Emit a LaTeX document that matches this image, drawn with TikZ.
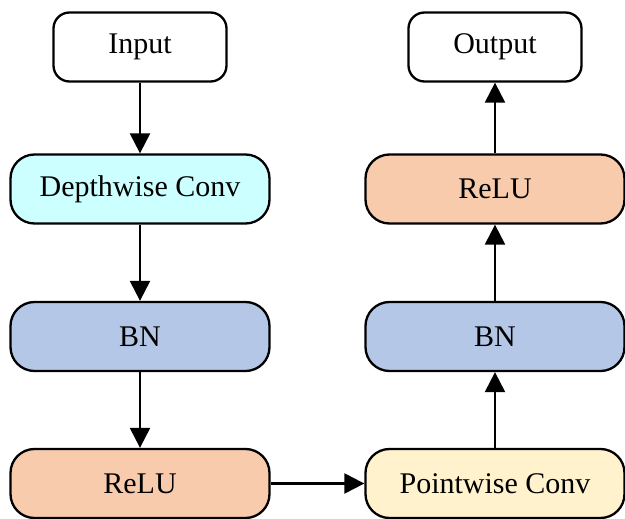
\documentclass[tikz,border=0pt]{standalone}
\usepackage{fontspec}
\setmainfont{Liberation Serif}
\usetikzlibrary{arrows.meta}
\definecolor{dwcyan}{HTML}{CCFFFF}
\definecolor{bnblue}{HTML}{B4C7E7}
\definecolor{relupeach}{HTML}{F8CBAD}
\definecolor{pwyellow}{HTML}{FFF2CC}
\begin{document}
\begin{tikzpicture}[x=1pt,y=-1pt,
  block/.style={draw=black, line width=2.3pt, rounded corners=24pt,
    minimum width=259pt, minimum height=69pt, inner sep=0pt,
    font=\fontsize{30}{33}\selectfont},
  io/.style={block, minimum width=173pt, rounded corners=16pt},
  flow/.style={line width=2.3pt, -{Triangle[length=20pt,width=20pt]}}]
\useasboundingbox (0,0) rectangle (625,519);
% left column
\node[io]                      (in)   at (140,47)    {Input};
\node[block, fill=dwcyan]      (dw)   at (140,189)   {Depthwise Conv};
\node[block, fill=bnblue]      (bn1)  at (140,336.5) {BN};
\node[block, fill=relupeach]   (re1)  at (140,483.5) {ReLU};
% right column
\node[block, fill=pwyellow]    (pw)   at (495,483.5) {Pointwise Conv};
\node[block, fill=bnblue]      (bn2)  at (495,336.5) {BN};
\node[block, fill=relupeach]   (re2)  at (495,189)   {ReLU};
\node[io]                      (out)  at (495,47)    {Output};
% connectors
\draw[flow] (in) -- (dw);
\draw[flow] (dw) -- (bn1);
\draw[flow] (bn1) -- (re1);
\draw[flow] (re1) -- (pw);
\draw[flow] (pw) -- (bn2);
\draw[flow] (bn2) -- (re2);
\draw[flow] (re2) -- (out);
\end{tikzpicture}
\end{document}
